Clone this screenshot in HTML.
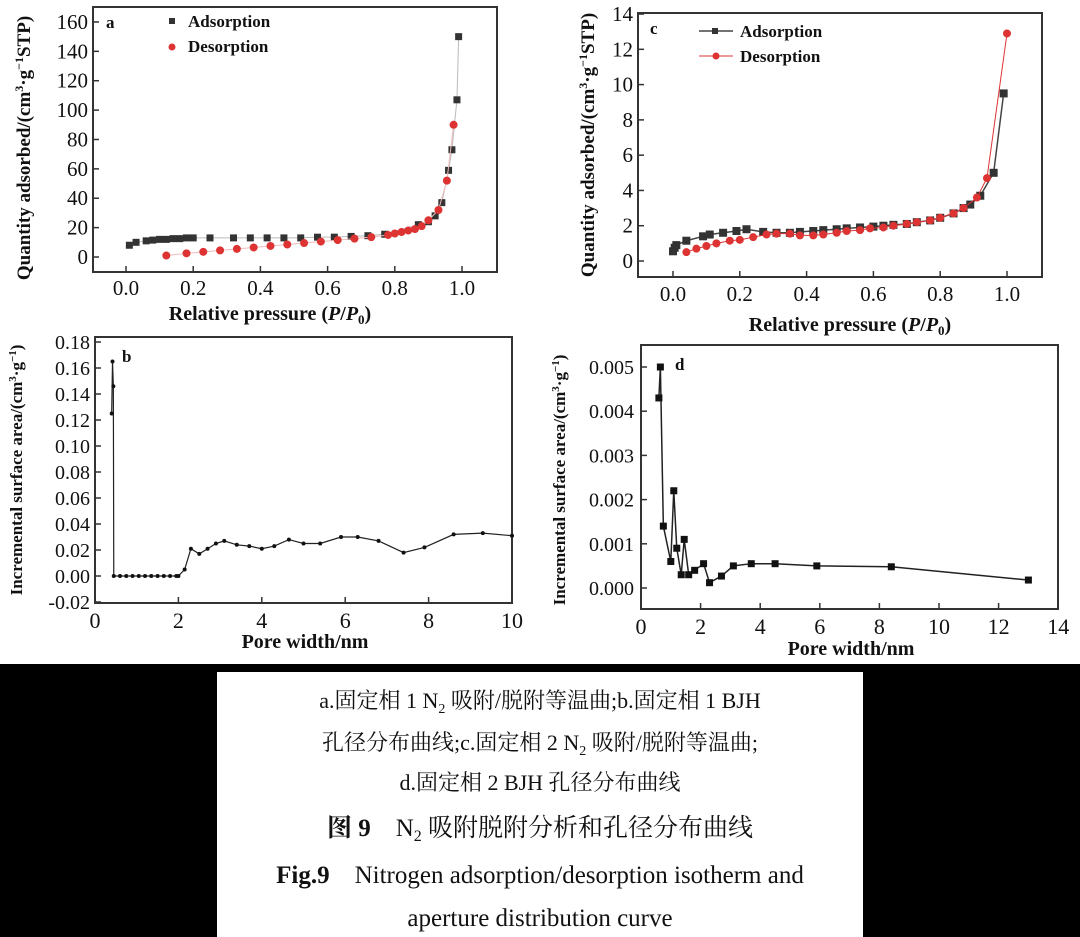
<!DOCTYPE html>
<html><head><meta charset="utf-8"><style>
html,body{margin:0;padding:0;background:#fff;width:1080px;height:937px;overflow:hidden}
svg{display:block}
text{font-family:"Liberation Serif","Noto Serif CJK SC",serif;fill:#111}
</style></head><body>
<svg id="s" width="1080" height="937" xmlns="http://www.w3.org/2000/svg">
<rect x="0" y="0" width="1080" height="937" fill="#fff"/>
<rect x="0" y="664" width="1080" height="273" fill="#000"/>
<rect x="217" y="672" width="646" height="265" fill="#fff"/>
<g font-size="22" text-anchor="middle">
<text x="540" y="708">a.固定相 1 N<tspan font-size="14" dy="5">2</tspan><tspan dy="-5"> 吸附/脱附等温曲;b.固定相 1 BJH</tspan></text>
<text x="540" y="750">孔径分布曲线;c.固定相 2 N<tspan font-size="14" dy="5">2</tspan><tspan dy="-5"> 吸附/脱附等温曲;</tspan></text>
<text x="540" y="790">d.固定相 2 BJH 孔径分布曲线</text>
<text x="540" y="836" font-size="25"><tspan font-weight="bold">图 9</tspan>　N<tspan font-size="16" dy="5">2</tspan><tspan dy="-5"> 吸附脱附分析和孔径分布曲线</tspan></text>
<text x="540" y="883" font-size="25"><tspan font-weight="bold">Fig.9</tspan>　Nitrogen adsorption/desorption isotherm and</text>
<text x="540" y="926" font-size="25">aperture distribution curve</text>
</g>
</svg>
<script>
const s=document.getElementById('s');const NS='http://www.w3.org/2000/svg';
function el(t,a,txt){const e=document.createElementNS(NS,t);for(const k in a)e.setAttribute(k,a[k]);if(txt!==undefined)e.textContent=txt;s.appendChild(e);return e;}
function box(x1,y1,x2,y2){el('rect',{x:x1,y:y1,width:x2-x1,height:y2-y1,fill:'none',stroke:'#333','stroke-width':2});}
function series(pts,X,Y,col,shape,lc,lw,r){
 el('polyline',{points:pts.map(p=>X(p[0])+','+Y(p[1])).join(' '),fill:'none',stroke:lc,'stroke-width':lw});
 pts.forEach(p=>{const x=X(p[0]),y=Y(p[1]);
  if(shape=='s')el('rect',{x:x-r,y:y-r,width:2*r,height:2*r,fill:col});
  else el('circle',{cx:x,cy:y,r:r,fill:col});});
}
const unitA='Quantity adsorbed/(cm<tspan font-size="12" dy="-7">3</tspan><tspan dy="7">·g</tspan><tspan font-size="12" dy="-7">−1</tspan><tspan dy="7">STP)</tspan>';
const unitB='Incremental surface area/(cm<tspan font-size="11" dy="-6">3</tspan><tspan dy="6">·g</tspan><tspan font-size="11" dy="-6">−1</tspan><tspan dy="6">)</tspan>';
// Panel a
{const X=p=>126+336*p,Y=v=>257-1.469*v;box(93,7,497,272);
for(let v=0;v<=160;v+=20){el('line',{x1:93,y1:Y(v),x2:99,y2:Y(v),stroke:'#333','stroke-width':1.5});el('text',{x:88,y:Y(v)+7,'font-size':21,'text-anchor':'end'},v);}
for(let i=0;i<=5;i++){const p=i*0.2;el('line',{x1:X(p),y1:272,x2:X(p),y2:266,stroke:'#333','stroke-width':1.5});el('text',{x:X(p),y:295,'font-size':21,'text-anchor':'middle'},p.toFixed(1));}
el('text',{x:270,y:320,'font-size':20,'font-weight':'bold','text-anchor':'middle'}).innerHTML='Relative pressure (<tspan font-style="italic">P</tspan>/<tspan font-style="italic">P</tspan><tspan font-size="13" dy="4">0</tspan><tspan dy="-4">)</tspan>';
el('text',{x:0,y:0,'font-size':19,'font-weight':'bold','text-anchor':'middle',transform:'translate(30,148) rotate(-90)'}).innerHTML=unitA;
el('text',{x:106,y:28,'font-size':17,'font-weight':'bold'},'a');
el('rect',{x:169,y:18,width:6,height:6,fill:'#333'});el('text',{x:188,y:27,'font-size':17,'font-weight':'bold'},'Adsorption');
el('circle',{cx:172,cy:47,r:3.5,fill:'#d33'});el('text',{x:188,y:52,'font-size':17,'font-weight':'bold'},'Desorption');
const ad=[[0.01,8],[0.03,10],[0.06,11],[0.08,11.5],[0.1,12],[0.12,12],[0.14,12.5],[0.16,12.5],[0.18,13],[0.2,13],[0.25,13],[0.32,13],[0.37,13],[0.42,13],[0.47,13],[0.52,13],[0.57,13.5],[0.62,13.5],[0.67,14],[0.72,14.5],[0.77,15.5],[0.87,22],[0.9,24],[0.92,28],[0.94,37],[0.96,59],[0.97,73],[0.985,107],[0.99,150]];
const de=[[0.12,1],[0.18,2.5],[0.23,3.5],[0.28,4.5],[0.33,5.5],[0.38,6.5],[0.43,7.5],[0.48,8.5],[0.53,9.5],[0.58,10.5],[0.63,11.5],[0.68,12.5],[0.73,13.5],[0.78,15],[0.8,16],[0.82,17],[0.84,18],[0.86,19],[0.88,21],[0.9,25],[0.93,32],[0.955,52],[0.975,90]];
series(ad,X,Y,'#333','s','#bbb',1,3.5);series(de,X,Y,'#d33','c','#f0bbbb',1,4);}
// Panel c
{const X=p=>673+334*p,Y=v=>261-17.64*v;box(638,13,1042,277);
for(let v=0;v<=14;v+=2){el('line',{x1:638,y1:Y(v),x2:644,y2:Y(v),stroke:'#333','stroke-width':1.5});el('text',{x:633,y:Y(v)+7,'font-size':21,'text-anchor':'end'},v);}
for(let i=0;i<=5;i++){const p=i*0.2;el('line',{x1:X(p),y1:277,x2:X(p),y2:271,stroke:'#333','stroke-width':1.5});el('text',{x:X(p),y:301,'font-size':21,'text-anchor':'middle'},p.toFixed(1));}
el('text',{x:850,y:331,'font-size':20,'font-weight':'bold','text-anchor':'middle'}).innerHTML='Relative pressure (<tspan font-style="italic">P</tspan>/<tspan font-style="italic">P</tspan><tspan font-size="13" dy="4">0</tspan><tspan dy="-4">)</tspan>';
el('text',{x:0,y:0,'font-size':19,'font-weight':'bold','text-anchor':'middle',transform:'translate(594,145) rotate(-90)'}).innerHTML=unitA;
el('text',{x:650,y:34,'font-size':17,'font-weight':'bold'},'c');
el('line',{x1:699,y1:31,x2:733,y2:31,stroke:'#444','stroke-width':1.5});el('rect',{x:712,y:28,width:6,height:6,fill:'#333'});el('text',{x:740,y:37,'font-size':17,'font-weight':'bold'},'Adsorption');
el('line',{x1:699,y1:56,x2:733,y2:56,stroke:'#d33','stroke-width':1});el('circle',{cx:716,cy:56,r:3.5,fill:'#d33'});el('text',{x:740,y:62,'font-size':17,'font-weight':'bold'},'Desorption');
const ad=[[0,0.55],[0.005,0.75],[0.01,0.9],[0.04,1.15],[0.09,1.4],[0.11,1.5],[0.15,1.6],[0.19,1.7],[0.22,1.8],[0.27,1.65],[0.31,1.6],[0.35,1.6],[0.38,1.65],[0.42,1.7],[0.45,1.75],[0.49,1.8],[0.52,1.85],[0.56,1.9],[0.6,1.95],[0.63,2.0],[0.66,2.05],[0.7,2.1],[0.73,2.2],[0.77,2.3],[0.8,2.45],[0.84,2.7],[0.87,3.0],[0.89,3.2],[0.92,3.7],[0.96,5],[0.99,9.5]];
const de=[[0.04,0.5],[0.07,0.7],[0.1,0.85],[0.13,1.0],[0.17,1.15],[0.2,1.2],[0.24,1.35],[0.28,1.5],[0.31,1.55],[0.35,1.55],[0.38,1.45],[0.42,1.45],[0.45,1.5],[0.49,1.6],[0.52,1.7],[0.56,1.75],[0.59,1.85],[0.63,1.9],[0.66,2.0],[0.7,2.1],[0.73,2.2],[0.77,2.3],[0.8,2.45],[0.84,2.7],[0.87,3.0],[0.91,3.6],[0.94,4.7],[1.0,12.9]];
series(ad,X,Y,'#333','s','#444',1.5,4);series(de,X,Y,'#d33','c','#d33',1,4);}
// Panel b
{const X=w=>95+41.7*w,Y=v=>576-1300*v;box(95,337,512,603);
for(let i=-1;i<=9;i++){const v=i*0.02;el('line',{x1:95,y1:Y(v),x2:101,y2:Y(v),stroke:'#333','stroke-width':1.5});el('text',{x:90,y:Y(v)+7,'font-size':20,'text-anchor':'end'},(v<0?'-':'')+Math.abs(v).toFixed(2));}
for(let w=0;w<=10;w+=2){el('line',{x1:X(w),y1:603,x2:X(w),y2:597,stroke:'#333','stroke-width':1.5});el('text',{x:X(w),y:628,'font-size':22,'text-anchor':'middle'},w);}
el('text',{x:305,y:648,'font-size':20,'font-weight':'bold','text-anchor':'middle'},'Pore width/nm');
el('text',{x:0,y:0,'font-size':17,'font-weight':'bold','text-anchor':'middle',transform:'translate(22,470) rotate(-90)'}).innerHTML=unitB;
el('text',{x:122,y:362,'font-size':17,'font-weight':'bold'},'b');
const pts=[[0.4,0.125],[0.42,0.165],[0.44,0.146],[0.45,0]];for(let w=0.6;w<2;w+=0.15)pts.push([w,0]);pts.push([2,0]);
[[2.15,0.005],[2.3,0.021],[2.5,0.017],[2.7,0.021],[2.9,0.025],[3.1,0.027],[3.4,0.024],[3.7,0.023],[4.0,0.021],[4.3,0.023],[4.65,0.028],[5.0,0.025],[5.4,0.025],[5.9,0.030],[6.3,0.030],[6.8,0.027],[7.4,0.018],[7.9,0.022],[8.6,0.032],[9.3,0.033],[10,0.031]].forEach(p=>pts.push(p));
series(pts,X,Y,'#111','c','#222',1.2,2);}
// Panel d
{const X=w=>641+29.8*w,Y=v=>588-44200*v;box(641,345,1058,609);
for(let i=0;i<=5;i++){const v=i*0.001;el('line',{x1:641,y1:Y(v),x2:647,y2:Y(v),stroke:'#333','stroke-width':1.5});el('text',{x:634,y:Y(v)+7,'font-size':20,'text-anchor':'end'},v.toFixed(3));}
for(let w=0;w<=14;w+=2){el('line',{x1:X(w),y1:609,x2:X(w),y2:603,stroke:'#333','stroke-width':1.5});el('text',{x:X(w),y:634,'font-size':22,'text-anchor':'middle'},w);}
el('text',{x:851,y:655,'font-size':20,'font-weight':'bold','text-anchor':'middle'},'Pore width/nm');
el('text',{x:0,y:0,'font-size':17,'font-weight':'bold','text-anchor':'middle',transform:'translate(565,480) rotate(-90)'}).innerHTML=unitB;
el('text',{x:675,y:370,'font-size':17,'font-weight':'bold'},'d');
const pts=[[0.6,0.0043],[0.65,0.005],[0.75,0.0014],[1.0,0.0006],[1.1,0.0022],[1.2,0.0009],[1.35,0.0003],[1.45,0.0011],[1.6,0.0003],[1.8,0.0004],[2.1,0.00055],[2.3,0.00012],[2.7,0.00027],[3.1,0.0005],[3.7,0.00055],[4.5,0.00055],[5.9,0.0005],[8.4,0.00048],[13,0.00018]];
series(pts,X,Y,'#111','s','#222',1.5,3.5);}
</script>
</body></html>
